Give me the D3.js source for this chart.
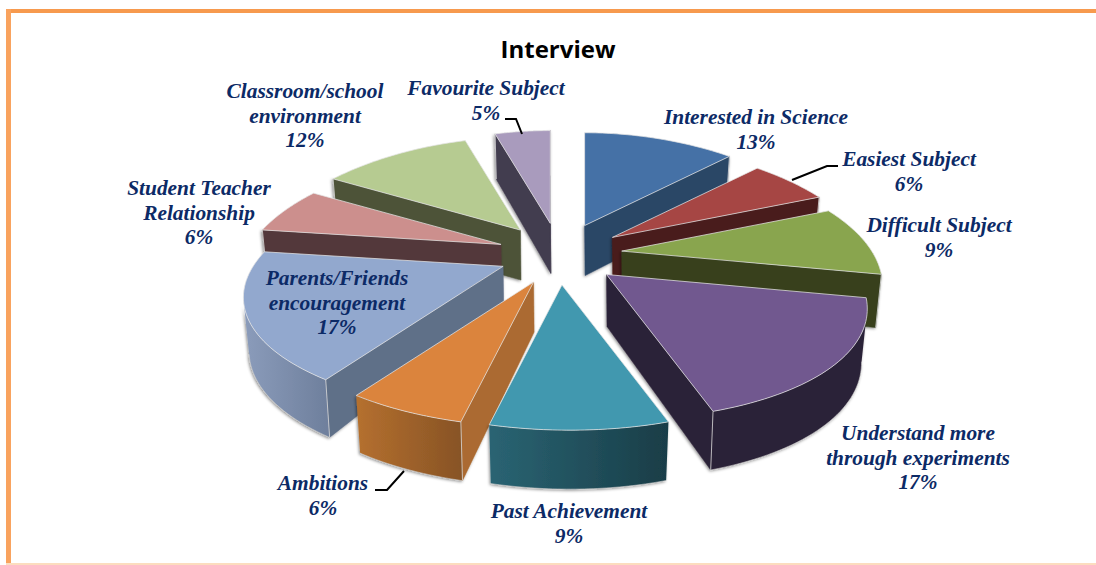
<!DOCTYPE html>
<html><head><meta charset="utf-8">
<script src="https://cdn.jsdelivr.net/npm/d3@7"></script>
<style>html,body{margin:0;padding:0;background:#fff}svg{display:block}</style>
</head><body><svg id="c" width="1096" height="565"></svg>
<script>
const categories = ["Interested in Science","Easiest Subject","Difficult Subject","Understand more through experiments","Past Achievement","Ambitions","Parents/Friends encouragement","Student Teacher Relationship","Classroom/school environment","Favourite Subject"];
const values = [13,6,9,17,9,6,17,6,12,5];
const topColors = ["#4571A6","#A64644","#89A54E","#71588F","#4198AF","#DB843D","#92A8CE","#CC8F8D","#B6CB91","#A99BBD"];
const sideColors = ["#2B4666","#4A1B1A","#37411F","#2C2238","#235A68","#AB6A30","#5F6F88","#53393A","#4D5339","#423C4F"];
const rimFrom = ["#2B4666","#4A1B1A","#37411F","#2C2238","#2A6473","#B5702F","#8B9CBB","#53393A","#4D5339","#423C4F"];
const rimTo = ["#2B4666","#4A1B1A","#37411F","#2C2238","#193D47","#875325","#6E7F9C","#53393A","#4D5339","#423C4F"];
const drawOrder = [9,0,8,1,7,2,6,3,5,4];
const apexDepths = [50,50,50,52,50,50,35,50,50,50];
const labelLines = [["Interested in Science","13%"],["Easiest Subject","6%"],["Difficult Subject","9%"],["Understand more","through experiments","17%"],["Past Achievement","9%"],["Ambitions","6%"],["Parents/Friends","encouragement","17%"],["Student Teacher","Relationship","6%"],["Classroom/school","environment","12%"],["Favourite Subject","5%"]];
const labelX = [756,909,939,918,569,323,337,199,305,486];
const labelY = [124,166,232,440,518,490,285,195,98,95];
const leaders = [[[505,119],[516,119],[522,134]],[[792,180],[827,166],[838,166]],[[375,490],[387,490],[404,471]]];

const cx=560, cy=254, explode=62, R=250, K=119;
const svg=d3.select("#c");
const defs=svg.append("defs");
const f=defs.append("filter").attr("id","sh").attr("x","-10%").attr("y","-10%").attr("width","120%").attr("height","120%");
f.append("feDropShadow").attr("dx",-1).attr("dy",1).attr("stdDeviation",1.4).attr("flood-color","#000").attr("flood-opacity",.45);

// page frame
svg.append("rect").attr("x",6).attr("y",9).attr("width",1090).attr("height",4).attr("fill","#F79A4E");
svg.append("rect").attr("x",6).attr("y",9).attr("width",5).attr("height",556).attr("fill","#F9A35E");
svg.append("rect").attr("x",6).attr("y",563).attr("width",1090).attr("height",2).attr("fill","#FCDDBF");

svg.append("text").attr("x",558).attr("y",58).attr("text-anchor","middle")
  .attr("font-family","'Open Sans',sans-serif").attr("font-weight",700).attr("font-size",24).attr("fill","#000").text("Interview");

const arcs=d3.pie().sort(null).value(d=>d)(values);
const line=d3.line();
const area=pts=>-d3.polygonArea(pts);
arcs.forEach((s,i)=>{
  const mid=(s.startAngle+s.endAngle)/2;
  const ax=cx+explode*Math.sin(mid), ay=cy-explode*.5*Math.cos(mid);
  const apexTop=[ax,ay], apexBot=[ax+.5,ay+apexDepths[i]];
  const rimTop=a=>{const v=-Math.cos(a);return [ax+R*Math.sin(a)*(1+.3*v)+(v>0?8*v*v:0), ay+K*v*(1+.22*v)];};
  const rimBot=a=>{const v=-Math.cos(a),p=rimTop(a);return [p[0]-.022*(p[0]-ax), p[1]+52+7*v];};
  const samples=d3.range(0,41).map(k=>s.startAngle+(s.endAngle-s.startAngle)*k/40);
  const g=svg.append("g").attr("data-i",i);
  const startWall=[apexTop,rimTop(s.startAngle),rimBot(s.startAngle),apexBot];
  const endWall=[apexTop,rimTop(s.endAngle),rimBot(s.endAngle),apexBot];
  s.walls=[];
  if(area(startWall)<0) s.walls.push(startWall);
  if(area(endWall)>0) s.walls.push(endWall);
  const facing=samples.filter((a,k)=>{const nx=k<40?rimTop(samples[k+1])[0]:rimTop(a)[0]-(rimTop(samples[k-1])[0]-rimTop(a)[0]);return nx<rimTop(a)[0];});
  s.g=g; s.i=i; s.ax=ax; s.ay=ay; s.rimTop=rimTop; s.rimBot=rimBot; s.samples=samples; s.facing=facing; s.apexTop=apexTop;
});
drawOrder.forEach(i=>{
  const s=arcs[i];
  s.g.raise();
  const outer=s.g.append("g").attr("filter","url(#sh)");
  s.walls.forEach(w=>{
    outer.append("path").attr("d",line(w)+"Z").attr("fill",sideColors[i]).attr("stroke",sideColors[i]).attr("stroke-width",.5);
  });
  if(s.facing.length>1){
    const top=s.facing.map(a=>s.rimTop(a)), bot=s.facing.map(a=>s.rimBot(a)).reverse();
    const ext=d3.extent(top.concat(bot),p=>p[0]);
    const gid="rim"+i;
    const lg=defs.append("linearGradient").attr("id",gid).attr("gradientUnits","userSpaceOnUse")
      .attr("x1",ext[0]).attr("x2",ext[1]).attr("y1",0).attr("y2",0);
    lg.append("stop").attr("offset",0).attr("stop-color",rimFrom[i]);
    lg.append("stop").attr("offset",1).attr("stop-color",rimTo[i]);
    outer.append("path").attr("d",line(top.concat(bot))+"Z").attr("fill","url(#"+gid+")");
    outer.append("path").attr("d",line(s.facing.map(a=>s.rimBot(a)))).attr("fill","none").attr("stroke","#ccc").attr("stroke-width",1).attr("opacity",.6);
  }
  s.walls.forEach(w=>{
    outer.append("path").attr("d",line([w[1],w[2]])).attr("stroke","#d8d8d8").attr("stroke-width",1).attr("fill","none").attr("opacity",.8);
  });
  const face=[s.apexTop].concat(s.samples.map(a=>s.rimTop(a)));
  s.g.append("path").attr("d",line(face)+"Z").attr("fill",topColors[i]).attr("stroke","#e4e4e4").attr("stroke-opacity",.75).attr("stroke-width",1).attr("stroke-linejoin","round");
});

leaders.forEach(l=>svg.append("path").attr("d",line(l)).attr("fill","none").attr("stroke","#000").attr("stroke-width",2));

labelLines.forEach((lines,i)=>{
  const t=svg.append("text").attr("text-anchor","middle").attr("font-family","'Liberation Serif',serif")
    .attr("font-style","italic").attr("font-weight",700).attr("font-size",21.4).attr("fill","#0C2A66");
  lines.forEach((txt,k)=>t.append("tspan").attr("x",labelX[i]).attr("y",labelY[i]+k*24.7).text(txt));
});
</script></body></html>
